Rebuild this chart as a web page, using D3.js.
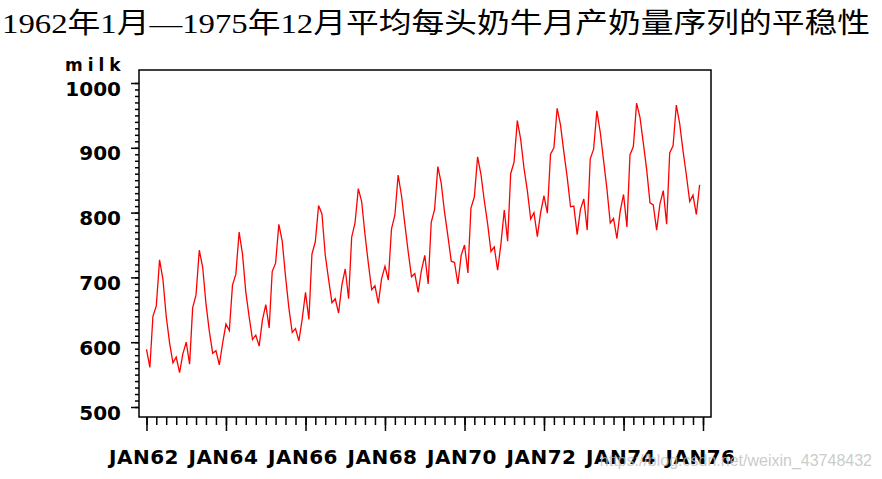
<!DOCTYPE html>
<html>
<head>
<meta charset="utf-8">
<script src="https://cdn.jsdelivr.net/npm/d3@7"></script>
<style>
  body { margin: 0; background: #fff; }
  svg { display: block; }
</style>
</head>
<body>
<div id="chart"></div>
<script>
// monthly milk production per cow, Jan 1962 .. Dec 1975
var years = [1962,1963,1964,1965,1966,1967,1968,1969,1970,1971,1972,1973,1974,1975];
var milk1962 = [589,561,640,656,727,697,640,599,568,577,553,582];
var milk1963 = [600,566,653,673,742,716,660,617,583,587,565,598];
var milk1964 = [628,618,688,705,770,736,678,639,604,611,594,634];
var milk1965 = [658,622,709,722,782,756,702,653,615,621,602,635];
var milk1966 = [677,635,736,755,811,798,735,697,661,667,645,688];
var milk1967 = [713,667,762,784,837,817,767,722,681,687,660,698];
var milk1968 = [717,696,775,796,858,826,783,740,701,706,677,711];
var milk1969 = [734,690,785,805,871,845,801,764,725,723,690,734];
var milk1970 = [750,707,807,824,886,859,819,783,740,747,711,751];
var milk1971 = [804,756,860,878,942,913,869,834,790,800,763,800];
var milk1972 = [826,799,890,900,961,935,894,855,809,810,766,805];
var milk1973 = [821,773,883,898,957,924,881,837,784,791,760,802];
var milk1974 = [828,778,889,902,969,947,908,867,815,812,773,813];
var milk1975 = [834,782,892,903,966,937,896,858,817,827,797,843];
var yTicks = [500,600,700,800,900,1000];
var xTickYears = [1962,1964,1966,1968,1970,1972,1974,1976];

var byYear = [milk1962,milk1963,milk1964,milk1965,milk1966,milk1967,milk1968,
              milk1969,milk1970,milk1971,milk1972,milk1973,milk1974,milk1975];
var data = [];
years.forEach(function(y, i) {
  byYear[i].forEach(function(v, m) {
    data.push({date: new Date(y, m, 1), value: v});
  });
});

var width = 882, height = 479;
var box = {left: 139, right: 711, top: 70, bottom: 417};

var svg = d3.select("#chart").append("svg")
  .attr("width", width).attr("height", height);

svg.append("text")
  .attr("x", 2).attr("y", 33)
  .attr("textLength", 868).attr("lengthAdjust", "spacingAndGlyphs")
  .style("font-family", "'Liberation Serif','Noto Sans CJK SC',serif")
  .style("font-size", "28px")
  .text("1962年1月—1975年12月平均每头奶牛月产奶量序列的平稳性");

var x = d3.scaleTime()
  .domain([new Date(1962,0,1), new Date(1976,0,1)])
  .range([146.5, 703]);
var y = d3.scaleLinear()
  .domain([500, 1000])
  .range([407, 83]);

var axisFont = "'DejaVu Sans',sans-serif";

// y axis: minor ticks every 10, majors every 100
var yg = svg.append("g").attr("transform", "translate(" + box.left + ",0)");
yg.call(d3.axisLeft(y).tickValues(d3.range(500, 1001, 10)).tickSize(4).tickFormat(""))
  .call(function(g){ g.select(".domain").remove(); });
yg.selectAll(".tick line").attr("stroke", "#000").attr("stroke-width", 1.5);
var yMaj = svg.append("g").attr("transform", "translate(" + box.left + ",0)")
  .call(d3.axisLeft(y).tickValues(yTicks).tickSize(8).tickPadding(10).tickFormat(d3.format("d")));
yMaj.select(".domain").remove();
yMaj.selectAll(".tick line").attr("stroke", "#000").attr("stroke-width", 1.5);
yMaj.selectAll(".tick text")
  .attr("fill", "#000").attr("dy", "0.6em")
  .style("font-family", axisFont).style("font-weight", "bold").style("font-size", "20px");

svg.append("text")
  .attr("x", 65).attr("y", 71)
  .style("font-family", axisFont).style("font-weight", "bold").style("font-size", "17px")
  .style("letter-spacing", "5px")
  .text("milk");

// x axis: quarterly minor ticks, 2-year majors
var xg = svg.append("g").attr("transform", "translate(0," + box.bottom + ")");
xg.call(d3.axisBottom(x).ticks(d3.timeMonth.every(3)).tickSize(8).tickFormat(""))
  .call(function(g){ g.select(".domain").remove(); });
xg.selectAll(".tick line").attr("stroke", "#000").attr("stroke-width", 1.5);
var xMaj = svg.append("g").attr("transform", "translate(0," + box.bottom + ")")
  .call(d3.axisBottom(x)
    .tickValues(xTickYears.map(function(yr){ return new Date(yr,0,1); }))
    .tickSize(14).tickPadding(19)
    .tickFormat(function(d){ return "JAN" + String(d.getFullYear()).slice(2); }));
xMaj.select(".domain").remove();
xMaj.selectAll(".tick line").attr("stroke", "#000").attr("stroke-width", 1.5);
xMaj.selectAll(".tick text")
  .attr("fill", "#000").attr("dx", "-3")
  .style("font-family", axisFont).style("font-weight", "bold").style("font-size", "20px")
  .style("letter-spacing", "0.5px");

// frame
svg.append("rect")
  .attr("x", box.left).attr("y", box.top)
  .attr("width", box.right - box.left).attr("height", box.bottom - box.top)
  .attr("fill", "none").attr("stroke", "#000").attr("stroke-width", 1.5);

// series
var line = d3.line()
  .x(function(d){ return x(d.date); })
  .y(function(d){ return y(d.value); });
svg.append("path")
  .datum(data)
  .attr("d", line)
  .attr("fill", "none")
  .attr("stroke", "#ff0000")
  .attr("stroke-width", 1.3);

// watermark
svg.append("text")
  .attr("x", 872).attr("y", 466)
  .attr("text-anchor", "end")
  .attr("fill", "#bdbdbd").attr("fill-opacity", 0.8)
  .style("font-family", "'Liberation Sans',Arial,sans-serif")
  .style("font-size", "16px")
  .text("https://blog.csdn.net/weixin_43748432");
</script>
</body>
</html>
